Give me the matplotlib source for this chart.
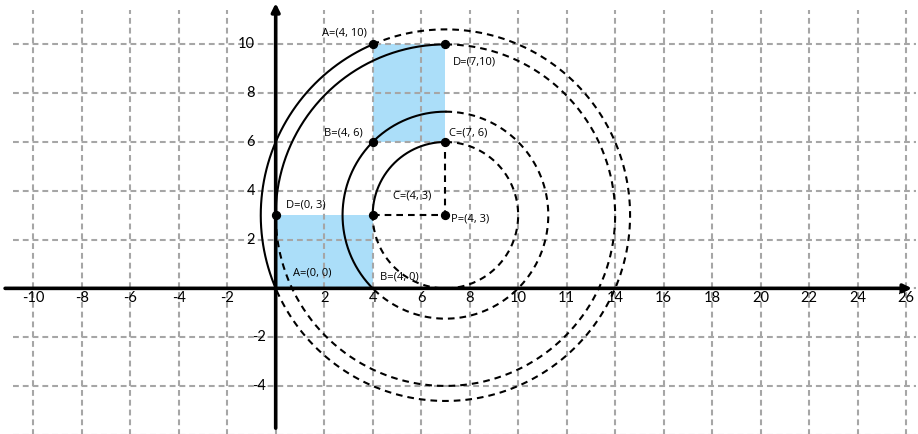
import numpy as np
import matplotlib
matplotlib.use("Agg")
import matplotlib.pyplot as plt
from matplotlib.patches import Rectangle

# rectangle ABCD and its image after turning 90 deg clockwise round P
orig_x = [0, 4, 4, 0]
orig_y = [0, 0, 3, 3]
img_x = [4, 4, 7, 7]
img_y = [10, 6, 6, 10]
centre = (7, 3)
# the B arc is drawn solid on past B' up to the top of its circle
solid_stop = [None, 90, None, None]

dots_x = [4, 7, 4, 7, 4, 7, 0]
dots_y = [10, 10, 6, 6, 3, 3, 3]

labels = ["A=(4, 10)", "D=(7,10)", "B=(4, 6)", "C=(7, 6)", "C=(4, 3)",
          "P=(4, 3)", "D=(0, 3)", "A=(0, 0)", "B=(4, 0)"]
label_x = [3.76, 7.31, 3.6, 7.15, 4.84, 7.23, 0.42, 0.71, 4.3]
label_y = [10.46, 9.27, 6.36, 6.36, 3.78, 2.84, 3.41, 0.63, 0.46]
label_ha = ["right", "left", "right", "left", "left", "left", "left", "left", "left"]

xtick_pos = [-10, -8, -6, -4, -2, 2, 4, 6, 8, 10, 12, 14, 16, 18, 20, 22, 24, 26]
xtick_lab = ["-10", "-8", "-6", "-4", "-2", "2", "4", "6", "8", "10", "11", "14",
             "16", "18", "20", "22", "24", "26"]
ytick_pos = [10, 8, 6, 4, 2, -2, -4]

fig = plt.figure(figsize=(9.18, 4.34), dpi=100)
ax = fig.add_axes([0, 0, 1, 1])
ax.set_xlim(-11.37, 26.49)
ax.set_ylim(-5.97, 11.82)
ax.axis("off")

# shaded rectangles
ax.add_patch(Rectangle((min(orig_x), min(orig_y)), max(orig_x) - min(orig_x),
                       max(orig_y) - min(orig_y), color="#abdef9", lw=0, zorder=1))
ax.add_patch(Rectangle((min(img_x), min(img_y)), max(img_x) - min(img_x),
                       max(img_y) - min(img_y), color="#abdef9", lw=0, zorder=1))

# grid
gkw = dict(color="#a6a6a6", lw=1.5, dashes=(2.8, 1.9), zorder=2)
for gx in range(-10, 27, 2):
    ax.plot([gx, gx], [-6.1, 11.4], **gkw)
for gy in range(-6, 11, 2):
    ax.plot([-10.83, 26.4], [gy, gy], **gkw)

# arcs round the centre
cx, cy = centre
for i in range(4):
    dx, dy = orig_x[i] - cx, orig_y[i] - cy
    r = np.hypot(dx, dy)
    a0 = np.degrees(np.arctan2(dy, dx)) % 360
    a1 = np.degrees(np.arctan2(img_y[i] - cy, img_x[i] - cx)) % 360
    if solid_stop[i] is not None:
        a1 = solid_stop[i]
    t = np.radians(np.linspace(a1, a0, 200))
    ax.plot(cx + r * np.cos(t), cy + r * np.sin(t), color="black", lw=1.5, zorder=3)
    t = np.radians(np.linspace(a1, a0 - 360, 600))
    ax.plot(cx + r * np.cos(t), cy + r * np.sin(t), color="black", lw=1.5,
            dashes=(3.2, 2.4), zorder=3)

# dashed radii from C to P and P to C'
ax.plot([orig_x[2], cx, img_x[2]], [orig_y[2], cy, img_y[2]], color="black",
        lw=1.5, dashes=(3.2, 2.4), zorder=3)

# axes with arrows
akw = dict(arrowstyle="-|>", lw=2.6, color="black", mutation_scale=12, shrinkA=0, shrinkB=0)
ax.annotate("", xy=(26.24, 0), xytext=(-11.16, 0), arrowprops=akw, zorder=4)
ax.annotate("", xy=(0, 11.69), xytext=(0, -5.73), arrowprops=akw, zorder=4)

ax.scatter(dots_x, dots_y, s=32, color="black", zorder=5)

for s, lx, ly, ha in zip(labels, label_x, label_y, label_ha):
    ax.text(lx, ly, s, ha=ha, va="center", fontsize=8, family="Open Sans", zorder=6)

for p, s in zip(xtick_pos, xtick_lab):
    ax.text(p, -0.4, s, ha="center", va="center", fontsize=10.5, family="Lato", zorder=6)
for p in ytick_pos:
    xr = -0.85 if p > 0 else -0.4
    ax.text(xr, p, str(p), ha="right", va="center", fontsize=10.5, family="Lato", zorder=6)

# clipped fragment of a heading above the picture
fig.text(0.118, 1.013, "g", fontsize=22, ha="center", va="baseline")

fig.savefig("out.png", dpi=100)
